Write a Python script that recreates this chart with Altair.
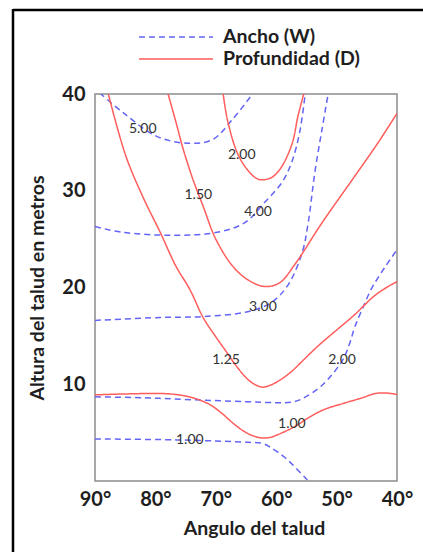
import altair as alt
import pandas as pd

# ---- Data ----
# Ancho (W) curves (dashed blue)
w5_angle = [89.2, 85.4, 79.7, 74.3, 70.5, 67.2, 63.8]
w5_height = [40.1, 38.1, 35.6, 34.9, 35.3, 37.4, 40.1]
w4_angle = [90, 85.4, 77.1, 69.8, 65.2, 61.9, 59.0, 57.4, 56.1, 55.2]
w4_height = [26.3, 25.7, 25.4, 25.7, 26.7, 28.8, 30.9, 33.0, 36.1, 40.0]
w3_angle = [90, 79.2, 72.1, 64.7, 60.7, 58.0, 55.7, 54.7, 53.6, 52.4, 51.4]
w3_height = [16.6, 16.9, 17.0, 17.5, 18.5, 20.3, 23.6, 26.7, 31.9, 36.4, 40.0]
w2_angle = [90, 82.0, 74.0, 65.0, 60.0, 57.5, 55.7, 52.4, 49.1, 47.9, 47.0, 45.8, 44.2, 42.0, 40.0]
w2_height = [8.7, 8.6, 8.4, 8.2, 8.1, 8.15, 8.5, 9.9, 12.4, 14.1, 15.9, 17.7, 19.9, 22.1, 23.9]
w1_angle = [90, 76.6, 64.7, 62.4, 61.0, 58.5, 54.7]
w1_height = [4.35, 4.25, 4.0, 3.9, 3.5, 2.4, 0.0]

# Profundidad (D) curves (solid red)
d200_angle = [68.8, 68.1, 66.5, 64.8, 63.0, 61.0, 59.4, 57.4, 56.4, 55.4]
d200_height = [40.1, 37.4, 34.0, 32.2, 31.2, 31.3, 32.2, 34.8, 37.7, 40.1]
d150_angle = [77.9, 76.6, 75.4, 73.8, 72.1, 70.0, 67.2, 64.7, 61.9, 59.4, 56.9, 52.4, 47.0, 43.1, 40.0]
d150_height = [40.0, 37.1, 34.3, 31.2, 28.4, 25.0, 22.2, 20.8, 20.1, 20.5, 22.4, 26.7, 31.5, 35.0, 38.0]
d125_angle = [87.8, 84.9, 82.1, 79.2, 76.6, 74.3, 72.1, 70.0, 68.3, 66.5, 64.7, 63.3, 62.2, 60.8,
              59.2, 57.5, 55.5, 53.0, 50.0, 47.0, 44.0, 42.0, 40.0]
d125_height = [40.0, 33.6, 29.4, 25.7, 22.2, 19.8, 16.9, 14.9, 13.4, 11.8, 10.5, 9.9, 9.7, 9.95,
               10.5, 11.3, 12.5, 14.0, 15.6, 17.2, 19.0, 19.9, 20.6]
d100_angle = [90, 84.9, 77.6, 73.8, 71.0, 69.0, 67.0, 65.0, 63.5, 62.4, 61.0, 59.7, 57.0, 54.5,
              52.0, 49.0, 46.0, 43.5, 42.0, 40.0]
d100_height = [8.9, 9.0, 9.0, 8.6, 7.9, 7.0, 5.9, 5.0, 4.6, 4.45, 4.5, 4.8, 5.6, 6.6,
               7.4, 8.0, 8.55, 9.05, 9.1, 8.95]

# Contour labels
label_text = ["5.00", "4.00", "3.00", "2.00", "1.00", "2.00", "1.50", "1.25", "1.00"]
label_angle = [82.1, 63.0, 62.2, 49.1, 74.3, 65.7, 72.9, 68.3, 57.4]
label_height = [36.4, 27.8, 18.0, 12.5, 4.25, 33.7, 29.6, 12.5, 5.9]

series_names = ["Ancho (W)", "Profundidad (D)"]
x_ticks = [90, 80, 70, 60, 50, 40]
y_ticks = [10, 20, 30, 40]

curves = [
    ("W5", series_names[0], w5_angle, w5_height),
    ("W4", series_names[0], w4_angle, w4_height),
    ("W3", series_names[0], w3_angle, w3_height),
    ("W2", series_names[0], w2_angle, w2_height),
    ("W1", series_names[0], w1_angle, w1_height),
    ("D200", series_names[1], d200_angle, d200_height),
    ("D150", series_names[1], d150_angle, d150_height),
    ("D125", series_names[1], d125_angle, d125_height),
    ("D100", series_names[1], d100_angle, d100_height),
]
rows = []
for cid, ser, xs, ys in curves:
    for i, (a, h) in enumerate(zip(xs, ys)):
        rows.append({"curve": cid, "series": ser, "angle": a, "height": h, "ord": i})
df = pd.DataFrame(rows)
lab_df = pd.DataFrame({"angle": label_angle, "height": label_height, "text": label_text})

FONT = "Lato"
INK = "#1e1e1e"

x_enc = alt.X("angle:Q",
              scale=alt.Scale(domain=[40, 90], reverse=True, nice=False, zero=False),
              axis=alt.Axis(values=x_ticks, labelExpr="datum.value + '°'",
                            title="Angulo del talud", grid=False, ticks=False, domain=False,
                            labelFlush=False, labelFont=FONT, labelFontSize=20,
                            labelFontWeight="bold", labelColor=INK, labelPadding=8,
                            titleFont=FONT, titleFontSize=19.5, titleFontWeight="bold",
                            titleColor=INK, titleBaseline="alphabetic",
                            titleX=159, titleY=53, titleAlign="center"))
y_enc = alt.Y("height:Q",
              scale=alt.Scale(domain=[0, 40], nice=False),
              axis=alt.Axis(values=y_ticks, title="Altura del talud en metros", grid=False,
                            ticks=False, domain=False, labelFont=FONT, labelFontSize=20,
                            labelFontWeight="bold", labelColor=INK, labelPadding=10,
                            titleFont=FONT, titleFontSize=19.5, titleFontWeight="bold",
                            titleColor=INK, titleX=-52, titleY=193.5,
                            titleAlign="center", titleBaseline="alphabetic"))

leg = alt.Legend(orient="none", legendX=43, legendY=-68, title=None,
                 symbolType="stroke", symbolSize=5476, symbolStrokeWidth=1.5,
                 clipHeight=22, labelFont=FONT, labelFontSize=19.5, labelFontWeight="bold",
                 labelColor=INK, labelOffset=9, rowPadding=0, padding=0,
                 symbolOpacity=1)

lines = alt.Chart(df).mark_line(strokeWidth=1.5, interpolate="catmull-rom", clip=True).encode(
    x=x_enc,
    y=y_enc,
    detail="curve:N",
    order="ord:Q",
    color=alt.Color("series:N", scale=alt.Scale(domain=series_names,
                                                range=["#6464f5", "#ff5c5c"]), legend=leg),
    strokeDash=alt.StrokeDash("series:N", scale=alt.Scale(domain=series_names,
                                                          range=[[6, 4], [1, 0]]), legend=leg),
)

labels = alt.Chart(lab_df).mark_text(font=FONT, fontSize=14, color="#333333",
                                     align="center", baseline="middle").encode(
    x="angle:Q", y="height:Q", text="text:N")

frame_df = pd.DataFrame({"k": [0]})
top_border = alt.Chart(frame_df).mark_rule(color="black", strokeWidth=2.5).encode(
    x=alt.value(-82), x2=alt.value(340), y=alt.value(-84))
left_border = alt.Chart(frame_df).mark_rule(color="black", strokeWidth=2.5).encode(
    x=alt.value(-82), y=alt.value(-85), y2=alt.value(475))

chart = alt.layer(lines, labels, top_border, left_border).properties(
    width=302, height=387,
    autosize=alt.AutoSizeParams(type="none"),
    padding={"left": 95, "top": 94, "right": 26, "bottom": 71},
    background="white",
).configure_view(stroke="#8c8c8c", strokeWidth=1.5)

chart.save("out.html", embed_options={"renderer": "svg", "actions": False})
